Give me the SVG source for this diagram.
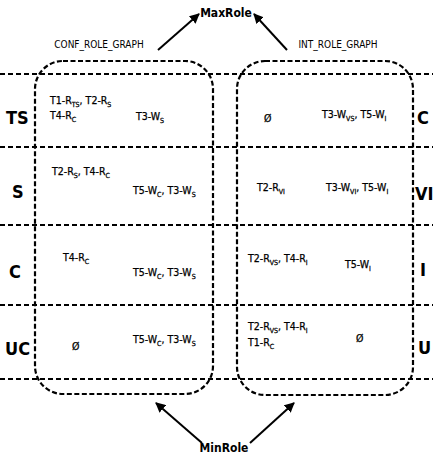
<svg xmlns="http://www.w3.org/2000/svg" width="433" height="457" viewBox="0 0 433 457">
<style>
.hl{stroke:#000;stroke-width:2;stroke-dasharray:5 3;fill:none}
.box{stroke:#000;stroke-width:2.2;stroke-dasharray:5 2.5;fill:none}
.ar{stroke:#000;stroke-width:2;fill:none;marker-end:url(#ah)}
text{font-family:"DejaVu Sans Condensed","DejaVu Sans","Liberation Sans",sans-serif;fill:#000}
.c{font-size:10.5px;font-stretch:condensed;stroke:#000;stroke-width:0.25}
.s{font-size:7px}
.rl{font-size:18px;font-weight:bold;font-stretch:condensed}
.t{font-size:12px;font-weight:bold;font-stretch:condensed}
.g{font-size:10px;font-stretch:condensed}
</style>
<defs>
<marker id="ah" viewBox="0 0 10 10" refX="9" refY="5" markerWidth="5" markerHeight="5" orient="auto">
<path d="M0,0 L10,5 L0,10 z" fill="#000"/>
</marker>
</defs>
<g id="connectors">
<line class="ar" x1="158" y1="50" x2="199" y2="14"/>
<line class="ar" x1="287" y1="50" x2="254" y2="14"/>
<line class="ar" x1="202" y1="443" x2="156" y2="403"/>
<line class="ar" x1="250" y1="443" x2="294" y2="403"/>
</g>
<g id="grid">
<line class="hl" x1="0" y1="74" x2="433" y2="74"/>
<line class="hl" x1="0" y1="147" x2="433" y2="147"/>
<line class="hl" x1="0" y1="225" x2="433" y2="225"/>
<line class="hl" x1="0" y1="305" x2="433" y2="305"/>
<line class="hl" x1="0" y1="379" x2="433" y2="379"/>
</g>
<g id="MaxRole"><text class="t" x="226" y="17" text-anchor="middle">MaxRole</text></g>
<g id="MinRole"><text class="t" x="224" y="452" text-anchor="middle">MinRole</text></g>
<g id="CONF_ROLE_GRAPH">
<rect class="box" x="35" y="61" width="178" height="333" rx="28" ry="28"/>
<text class="g" x="99" y="48" text-anchor="middle">CONF_ROLE_GRAPH</text>
<text class="c" x="50" y="104">T1-R<tspan class="s" dy="3">TS</tspan><tspan dy="-3">, T2-R</tspan><tspan class="s" dy="3">S</tspan></text>
<text class="c" x="50" y="119">T4-R<tspan class="s" dy="3">C</tspan></text>
<text class="c" x="136" y="120">T3-W<tspan class="s" dy="3">S</tspan></text>
<text class="c" x="52" y="175">T2-R<tspan class="s" dy="3">S</tspan><tspan dy="-3">, T4-R</tspan><tspan class="s" dy="3">C</tspan></text>
<text class="c" x="133" y="194">T5-W<tspan class="s" dy="3">C</tspan><tspan dy="-3">, T3-W</tspan><tspan class="s" dy="3">S</tspan></text>
<text class="c" x="63" y="261">T4-R<tspan class="s" dy="3">C</tspan></text>
<text class="c" x="133" y="276">T5-W<tspan class="s" dy="3">C</tspan><tspan dy="-3">, T3-W</tspan><tspan class="s" dy="3">S</tspan></text>
<text class="c" x="72" y="350">Ø</text>
<text class="c" x="133" y="343">T5-W<tspan class="s" dy="3">C</tspan><tspan dy="-3">, T3-W</tspan><tspan class="s" dy="3">S</tspan></text>
</g>
<g id="INT_ROLE_GRAPH">
<rect class="box" x="237" y="61" width="176" height="334" rx="28" ry="28"/>
<text class="g" x="338" y="48" text-anchor="middle">INT_ROLE_GRAPH</text>
<text class="c" x="264" y="122">Ø</text>
<text class="c" x="322" y="118">T3-W<tspan class="s" dy="3">VS</tspan><tspan dy="-3">, T5-W</tspan><tspan class="s" dy="3">I</tspan></text>
<text class="c" x="257" y="191">T2-R<tspan class="s" dy="3">VI</tspan></text>
<text class="c" x="326" y="191">T3-W<tspan class="s" dy="3">VI</tspan><tspan dy="-3">, T5-W</tspan><tspan class="s" dy="3">I</tspan></text>
<text class="c" x="248" y="262">T2-R<tspan class="s" dy="3">VS</tspan><tspan dy="-3">, T4-R</tspan><tspan class="s" dy="3">I</tspan></text>
<text class="c" x="345" y="268">T5-W<tspan class="s" dy="3">I</tspan></text>
<text class="c" x="248" y="330">T2-R<tspan class="s" dy="3">VS</tspan><tspan dy="-3">, T4-R</tspan><tspan class="s" dy="3">I</tspan></text>
<text class="c" x="248" y="346">T1-R<tspan class="s" dy="3">C</tspan></text>
<text class="c" x="356" y="342">Ø</text>
</g>
<g id="levels">
<text class="rl" x="6" y="124">TS</text>
<text class="rl" x="12" y="198">S</text>
<text class="rl" x="9" y="278">C</text>
<text class="rl" x="5" y="355">UC</text>
<text class="rl" x="417" y="124">C</text>
<text class="rl" x="415" y="200">VI</text>
<text class="rl" x="420" y="276">I</text>
<text class="rl" x="418" y="354">U</text>
</g>
</svg>
